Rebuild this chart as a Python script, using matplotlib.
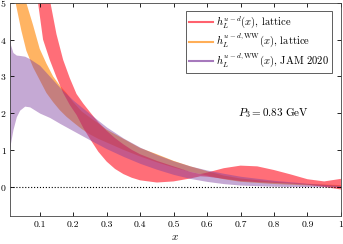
import numpy as np
import matplotlib
matplotlib.use('Agg')
from matplotlib import pyplot as plt
from matplotlib.lines import Line2D

plt.rcParams['font.family'] = 'serif'
plt.rcParams['font.serif'] = ['cmr10']
plt.rcParams['mathtext.fontset'] = 'cm'
plt.rcParams['axes.formatter.use_mathtext'] = True

# h_L^{u-d}(x), lattice
x_lat = [0.085, 0.095, 0.11, 0.13, 0.15, 0.17, 0.19, 0.21, 0.23, 0.25, 0.275,
         0.3, 0.325, 0.35, 0.375, 0.4, 0.45, 0.5, 0.55, 0.58, 0.6, 0.65, 0.7,
         0.75, 0.8, 0.85, 0.9, 0.95, 1.0]
lat_lo = [6.0, 5.0, 4.0, 3.45, 2.98, 2.55, 2.22, 1.95, 1.6, 1.3, 0.95,
          0.68, 0.48, 0.34, 0.24, 0.17, 0.11, 0.14, 0.22, 0.28, 0.27, 0.21, 0.15,
          0.12, 0.1, 0.08, 0.05, -0.01, -0.08]
lat_hi = [10.0, 8.0, 6.3, 5.1, 4.15, 3.45, 2.95, 2.52, 2.26, 2.03, 1.75,
          1.52, 1.32, 1.15, 1.0, 0.88, 0.7, 0.55, 0.4, 0.34, 0.38, 0.5, 0.57,
          0.55, 0.45, 0.33, 0.2, 0.14, 0.21]

# h_L^{u-d,WW}(x), lattice
x_ww = [0.01, 0.028, 0.045, 0.06, 0.08, 0.1, 0.12, 0.14, 0.16, 0.18, 0.2,
        0.225, 0.25, 0.275, 0.3, 0.35, 0.4, 0.45, 0.5, 0.55, 0.6, 0.65, 0.7,
        0.8, 0.9, 1.0]
ww_lo = [6.2, 5.0, 4.25, 3.7, 3.25, 2.9, 2.55, 2.3, 2.08, 1.9, 1.75,
         1.57, 1.42, 1.3, 1.2, 1.0, 0.82, 0.66, 0.52, 0.4, 0.3, 0.2, 0.13,
         0.07, 0.03, 0.0]
ww_hi = [9.0, 7.0, 5.8, 5.0, 4.4, 3.75, 3.35, 3.0, 2.75, 2.55, 2.3,
         2.05, 1.88, 1.72, 1.55, 1.3, 1.05, 0.88, 0.7, 0.55, 0.42, 0.3, 0.22,
         0.13, 0.07, 0.04]

# h_L^{u-d,WW}(x), JAM 2020
x_jam = [0.01, 0.013, 0.02, 0.03, 0.04, 0.055, 0.07, 0.1, 0.13, 0.16, 0.2,
         0.25, 0.3, 0.35, 0.4, 0.45, 0.5, 0.55, 0.6, 0.65, 0.7, 0.8, 0.9, 1.0]
jam_lo = [1.0, 1.2, 1.55, 1.9, 2.08, 2.19, 2.17, 2.0, 1.88, 1.72, 1.52,
          1.27, 1.03, 0.82, 0.63, 0.47, 0.33, 0.22, 0.14, 0.08, 0.04, 0.01, 0.0, 0.0]
jam_hi = [4.2, 3.85, 3.65, 3.58, 3.57, 3.55, 3.48, 3.3, 3.0, 2.7, 2.35,
          1.98, 1.62, 1.32, 1.07, 0.87, 0.7, 0.56, 0.45, 0.36, 0.28, 0.17, 0.09, 0.03]

labels = [r'$h_L^{u-d}(x)$, lattice',
          r'$h_L^{u-d,\mathrm{WW}}(x)$, lattice',
          r'$h_L^{u-d,\mathrm{WW}}(x)$, JAM 2020']
colors = ['#ff2030', '#ff8c10', '#8040a0']
alphas = [0.65, 0.65, 0.45]

fig = plt.figure(figsize=(3.43, 2.44), dpi=100)
ax = fig.add_axes([0.028, 0.115, 0.966, 0.873])

ax.fill_between(x_ww, ww_lo, ww_hi, color=colors[1], alpha=alphas[1], lw=0)
ax.fill_between(x_lat, lat_lo, lat_hi, color=colors[0], alpha=alphas[0], lw=0)
ax.fill_between(x_jam, jam_lo, jam_hi, color=colors[2], alpha=alphas[2], lw=0)

ax.axhline(0, color='k', ls=':', lw=0.8)

ax.set_xlim(0.01, 1.0)
ax.set_ylim(-0.8, 5.0)
ax.set_xticks([0.1, 0.2, 0.3, 0.4, 0.5, 0.6, 0.7, 0.8, 0.9, 1.0])
ax.set_xticklabels(['0.1', '0.2', '0.3', '0.4', '0.5', '0.6', '0.7', '0.8', '0.9', '1'])
ax.set_yticks([0, 1, 2, 3, 4, 5])
ax.tick_params(direction='in', top=True, right=True, labelsize=7, length=3,
               width=0.6)
ax.tick_params(axis='x', pad=3.5)
ax.tick_params(axis='y', pad=2.0)
for s in ax.spines.values():
    s.set_linewidth(0.6)
    s.set_color('#444444')
ax.set_xlabel(r'$x$', fontsize=8, labelpad=2)

ax.text(0.8, 2.0, r'$P_3 = 0.83\ \mathrm{GeV}$', fontsize=8, ha='center', va='center')

handles = [Line2D([], [], color=c, lw=1.5, alpha=0.7) for c in colors]
leg = ax.legend(handles, labels, loc='upper right', fontsize=7.6, fancybox=False,
                framealpha=1, edgecolor='#444444', handlelength=2.3,
                borderpad=0.3, labelspacing=0.15, handletextpad=0.3,
                borderaxespad=0.8)
leg.get_frame().set_linewidth(0.6)

fig.savefig('out.png', dpi=100)
